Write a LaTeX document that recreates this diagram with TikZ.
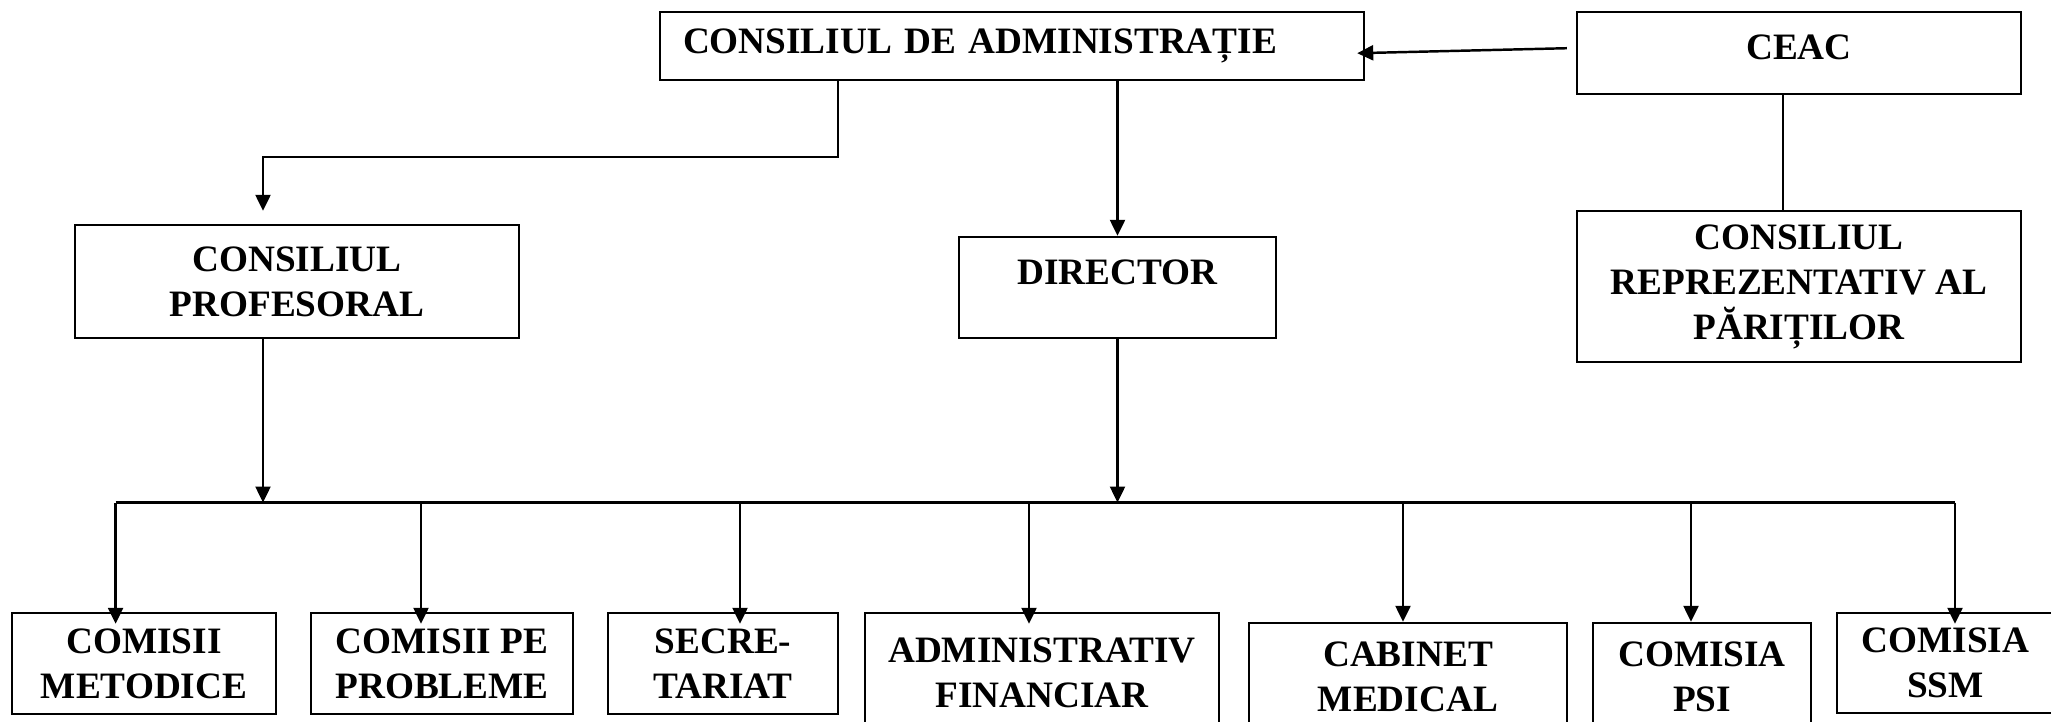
\documentclass[tikz,border=0pt]{standalone}
\usepackage{fontspec}
\setmainfont{Liberation Serif}
\usetikzlibrary{arrows.meta, positioning, calc}

\begin{document}
\begin{tikzpicture}[
    % Styles
    box/.style={rectangle, draw, line width=0.7pt, inner sep=0pt, align=center, font=\fontsize{10.6}{12.8}\selectfont\bfseries},
    arrow/.style={-{Triangle[length=1.6mm, width=1.5mm]}, line width=0.7pt},
    line/.style={line width=0.7pt},
]

% frame of the page
\clip (0,0) rectangle (20.51,-7.21);

% === TOP ROW ===
\node[box, minimum width=7.04cm, minimum height=0.68cm, text width=6.58cm, inner xsep=0.23cm, align=left] (cda) at (10.12,-0.46) {CONSILIUL DE ADMINISTRAȚIE};
\node[box, minimum width=4.44cm, minimum height=0.82cm, text depth=0.12cm] (ceac) at (17.99,-0.53) {CEAC};

% === MIDDLE ROW ===
\node[box, minimum width=4.44cm, minimum height=1.13cm] (cp) at (2.97,-2.815) {CONSILIUL\\PROFESORAL};
\node[box, minimum width=3.17cm, minimum height=1.01cm, text depth=0.3cm] (dir) at (11.175,-2.875) {DIRECTOR};
\node[box, minimum width=4.44cm, minimum height=1.51cm] (crp) at (17.99,-2.865) {CONSILIUL\\REPREZENTATIV AL\\PĂRIȚILOR};

% === BOTTOM ROW ===
\node[box, minimum width=2.64cm, minimum height=1.01cm] (b1) at (1.44,-6.635) {COMISII\\METODICE};
\node[box, minimum width=2.62cm, minimum height=1.01cm] (b2) at (4.42,-6.635) {COMISII PE\\PROBLEME};
\node[box, minimum width=2.30cm, minimum height=1.01cm] (b3) at (7.23,-6.635) {SECRE-\\TARIAT};
\node[box, minimum width=3.54cm, minimum height=1.20cm] (b4) at (10.42,-6.73) {ADMINISTRATIV\\FINANCIAR};
\node[box, minimum width=3.18cm, minimum height=1.08cm] (b5) at (14.08,-6.77) {CABINET\\MEDICAL};
\node[box, minimum width=2.18cm, minimum height=1.08cm] (b6) at (17.02,-6.77) {COMISIA\\PSI};
\node[box, minimum width=2.17cm, minimum height=1.00cm] (b7) at (19.455,-6.63) {COMISIA\\SSM};

% Top arrows
\draw[arrow, shorten <=0.09cm, shorten >=-0.08cm] ([yshift=0.05cm]ceac.west) -- ([yshift=-0.07cm]cda.east);
\draw[line] (17.83,0 |- ceac.south) -- (17.83,0 |- crp.north);
\draw[arrow, shorten >=0.13cm] (8.38,0 |- cda.south) -- ++(0,-0.76) -| (2.63,0 |- cp.north);
\draw[arrow] (dir.north |- cda.south) -- (dir.north);

% Bus line
\coordinate (busL) at (1.156,-5.025);
\coordinate (busR) at (19.55,-5.025);
\draw[line] (busL) -- (busR);
\draw[arrow] (2.63,0 |- cp.south) -- (2.63,0 |- busL);
\draw[arrow] (dir.south) -- (dir.south |- busL);

% Drops to the bottom row
\foreach \n/\x/\o in {b1/1.156/0.12, b2/4.21/0.12, b3/7.40/0.12, b4/10.29/0.12, b5/14.03/0, b6/16.91/0, b7/19.55/0.12}
  \draw[arrow, shorten >=-\o cm] (\x,0 |- busL) -- (\x,0 |- \n.north);

\end{tikzpicture}
\end{document}
